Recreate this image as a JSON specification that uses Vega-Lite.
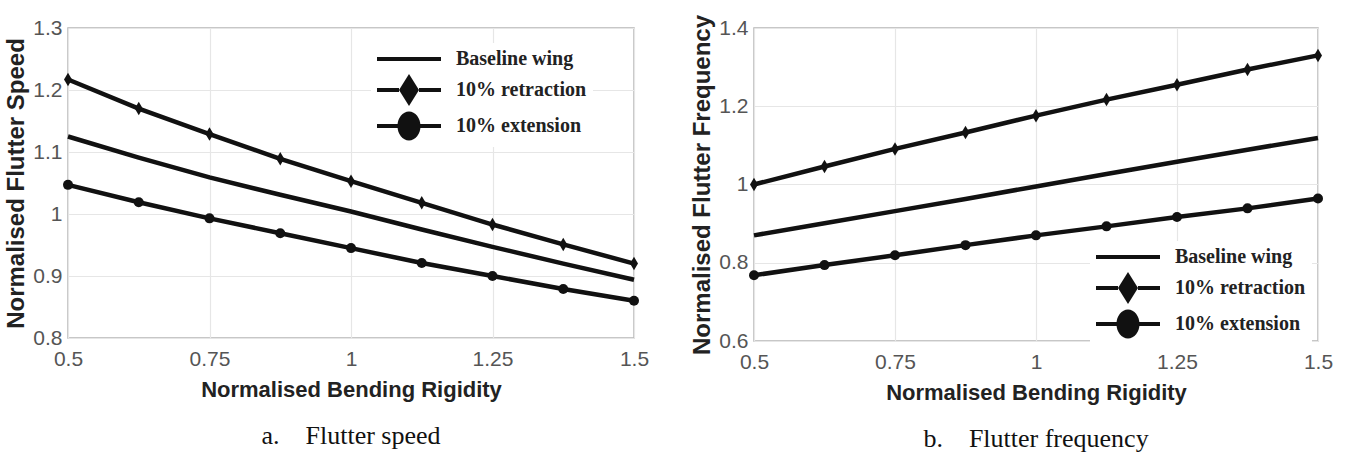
{
  "$schema": "https://vega.github.io/schema/vega-lite/v6.json",
  "padding": {"left": 4, "top": 13, "right": 4, "bottom": 0},
  "background": "white",
  "config": {
    "view": {"stroke": "#b5b5b5", "strokeWidth": 1.5},
    "axis": {
      "labelFont": "Liberation Sans", "labelFontSize": 21, "labelColor": "#555", "labelFlush": false,
      "titleFont": "Liberation Sans", "titleFontWeight": "bold", "titleColor": "#222",
      "ticks": false, "domain": false, "gridColor": "#e6e6e6", "gridWidth": 1.2, "labelPadding": 6
    },
    "title": {"font": "Liberation Serif", "fontSize": 26, "fontWeight": "normal", "color": "#111", "orient": "bottom", "offset": 23}
  },
  "data": {"values": [
    {"panel": "speed", "series": "Baseline wing", "x": 0.5, "y": 1.125},
    {"panel": "speed", "series": "Baseline wing", "x": 0.625, "y": 1.091},
    {"panel": "speed", "series": "Baseline wing", "x": 0.75, "y": 1.059},
    {"panel": "speed", "series": "Baseline wing", "x": 0.875, "y": 1.031},
    {"panel": "speed", "series": "Baseline wing", "x": 1.0, "y": 1.004},
    {"panel": "speed", "series": "Baseline wing", "x": 1.125, "y": 0.975},
    {"panel": "speed", "series": "Baseline wing", "x": 1.25, "y": 0.947},
    {"panel": "speed", "series": "Baseline wing", "x": 1.375, "y": 0.920},
    {"panel": "speed", "series": "Baseline wing", "x": 1.5, "y": 0.894},
    {"panel": "speed", "series": "10% retraction", "x": 0.5, "y": 1.217},
    {"panel": "speed", "series": "10% retraction", "x": 0.625, "y": 1.170},
    {"panel": "speed", "series": "10% retraction", "x": 0.75, "y": 1.129},
    {"panel": "speed", "series": "10% retraction", "x": 0.875, "y": 1.089},
    {"panel": "speed", "series": "10% retraction", "x": 1.0, "y": 1.053},
    {"panel": "speed", "series": "10% retraction", "x": 1.125, "y": 1.018},
    {"panel": "speed", "series": "10% retraction", "x": 1.25, "y": 0.983},
    {"panel": "speed", "series": "10% retraction", "x": 1.375, "y": 0.951},
    {"panel": "speed", "series": "10% retraction", "x": 1.5, "y": 0.920},
    {"panel": "speed", "series": "10% extension", "x": 0.5, "y": 1.047},
    {"panel": "speed", "series": "10% extension", "x": 0.625, "y": 1.019},
    {"panel": "speed", "series": "10% extension", "x": 0.75, "y": 0.993},
    {"panel": "speed", "series": "10% extension", "x": 0.875, "y": 0.969},
    {"panel": "speed", "series": "10% extension", "x": 1.0, "y": 0.945},
    {"panel": "speed", "series": "10% extension", "x": 1.125, "y": 0.921},
    {"panel": "speed", "series": "10% extension", "x": 1.25, "y": 0.900},
    {"panel": "speed", "series": "10% extension", "x": 1.375, "y": 0.879},
    {"panel": "speed", "series": "10% extension", "x": 1.5, "y": 0.860},
    {"panel": "freq", "series": "Baseline wing", "x": 0.5, "y": 0.870},
    {"panel": "freq", "series": "Baseline wing", "x": 0.625, "y": 0.901},
    {"panel": "freq", "series": "Baseline wing", "x": 0.75, "y": 0.932},
    {"panel": "freq", "series": "Baseline wing", "x": 0.875, "y": 0.963},
    {"panel": "freq", "series": "Baseline wing", "x": 1.0, "y": 0.995},
    {"panel": "freq", "series": "Baseline wing", "x": 1.125, "y": 1.027},
    {"panel": "freq", "series": "Baseline wing", "x": 1.25, "y": 1.058},
    {"panel": "freq", "series": "Baseline wing", "x": 1.375, "y": 1.089},
    {"panel": "freq", "series": "Baseline wing", "x": 1.5, "y": 1.119},
    {"panel": "freq", "series": "10% retraction", "x": 0.5, "y": 1.000},
    {"panel": "freq", "series": "10% retraction", "x": 0.625, "y": 1.046},
    {"panel": "freq", "series": "10% retraction", "x": 0.75, "y": 1.091},
    {"panel": "freq", "series": "10% retraction", "x": 0.875, "y": 1.133},
    {"panel": "freq", "series": "10% retraction", "x": 1.0, "y": 1.176},
    {"panel": "freq", "series": "10% retraction", "x": 1.125, "y": 1.217},
    {"panel": "freq", "series": "10% retraction", "x": 1.25, "y": 1.255},
    {"panel": "freq", "series": "10% retraction", "x": 1.375, "y": 1.294},
    {"panel": "freq", "series": "10% retraction", "x": 1.5, "y": 1.330},
    {"panel": "freq", "series": "10% extension", "x": 0.5, "y": 0.768},
    {"panel": "freq", "series": "10% extension", "x": 0.625, "y": 0.794},
    {"panel": "freq", "series": "10% extension", "x": 0.75, "y": 0.819},
    {"panel": "freq", "series": "10% extension", "x": 0.875, "y": 0.845},
    {"panel": "freq", "series": "10% extension", "x": 1.0, "y": 0.870},
    {"panel": "freq", "series": "10% extension", "x": 1.125, "y": 0.893},
    {"panel": "freq", "series": "10% extension", "x": 1.25, "y": 0.917},
    {"panel": "freq", "series": "10% extension", "x": 1.375, "y": 0.939},
    {"panel": "freq", "series": "10% extension", "x": 1.5, "y": 0.964}
  ]},
  "spacing": 40,
  "resolve": {"scale": {"shape": "independent", "x": "independent", "y": "independent"}, "legend": {"shape": "independent"}},
  "hconcat": [
    {
      "width": 566, "height": 310,
      "title": {"text": "a.\u00a0\u00a0\u00a0\u00a0Flutter speed"},
      "transform": [{"filter": "datum.panel === 'speed'"}],
      "encoding": {
        "x": {"field": "x", "type": "quantitative", "scale": {"domain": [0.5, 1.5], "nice": false, "zero": false},
              "axis": {"values": [0.5, 0.75, 1, 1.25, 1.5], "format": ".3~g", "labelPadding": 10, "title": "Normalised Bending Rigidity", "titleFontSize": 22, "titlePadding": 10}},
        "y": {"field": "y", "type": "quantitative", "scale": {"domain": [0.8, 1.3], "nice": false, "zero": false},
              "axis": {"values": [0.8, 0.9, 1, 1.1, 1.2, 1.3], "format": ".3~g", "title": "Normalised Flutter Speed", "titleFontSize": 24, "titlePadding": 4}}
      },
      "layer": [
        {"mark": {"type": "line", "color": "#111", "strokeWidth": 4.5}, "encoding": {"detail": {"field": "series"}}},
        {"transform": [{"filter": "datum.series === '10% retraction'"}],
         "mark": {"type": "point", "filled": true, "color": "#111", "opacity": 1, "size": 100, "shape": "M0,-1.35L0.8,0L0,1.35L-0.8,0Z"}, "encoding": {}},
        {"transform": [{"filter": "datum.series === '10% extension'"}],
         "mark": {"type": "point", "filled": true, "color": "#111", "opacity": 1, "size": 100, "shape": "circle"}, "encoding": {}},
        {"mark": {"type": "point", "filled": true, "color": "#111", "opacity": 0, "size": 10},
         "encoding": {
           "shape": {"field": "series", "type": "nominal",
             "scale": {"domain": ["Baseline wing", "10% retraction", "10% extension"],
                       "range": ["M-3.2,-0.2H3.2V0.2H-3.2Z", "M-3.2,-0.2H-1V0.2H-3.2Z M1,-0.2H3.2V0.2H1Z M0,-1.6L1,0L0,1.6L-1,0Z", "M-3.2,-0.2H-1V0.2H-3.2Z M1,-0.2H3.2V0.2H1Z M-1.15,0A1.15,1.45 0 1,1 1.15,0A1.15,1.45 0 1,1 -1.15,0Z"]},
             "legend": {"orient": "none", "legendX": 303, "legendY": 15, "title": null,
               "labelFont": "Liberation Serif", "labelFontWeight": "bold", "labelFontSize": 20, "labelColor": "#222",
               "symbolSize": 400, "symbolOpacity": 1, "symbolFillColor": "#111", "symbolStrokeWidth": 0,
               "fillColor": "white", "padding": 6, "rowPadding": 5, "symbolOffset": 22, "labelOffset": 37}}}}
      ]
    },
    {
      "width": 564, "height": 313,
      "title": {"text": "b.\u00a0\u00a0\u00a0\u00a0Flutter frequency"},
      "transform": [{"filter": "datum.panel === 'freq'"}],
      "encoding": {
        "x": {"field": "x", "type": "quantitative", "scale": {"domain": [0.5, 1.5], "nice": false, "zero": false},
              "axis": {"values": [0.5, 0.75, 1, 1.25, 1.5], "format": ".3~g", "labelPadding": 10, "title": "Normalised Bending Rigidity", "titleFontSize": 22, "titlePadding": 10}},
        "y": {"field": "y", "type": "quantitative", "scale": {"domain": [0.6, 1.4], "nice": false, "zero": false},
              "axis": {"values": [0.6, 0.8, 1, 1.2, 1.4], "format": ".3~g", "title": "Normalised Flutter Frequency", "titleFontSize": 24, "titlePadding": 4}}
      },
      "layer": [
        {"mark": {"type": "line", "color": "#111", "strokeWidth": 4.5}, "encoding": {"detail": {"field": "series"}}},
        {"transform": [{"filter": "datum.series === '10% retraction'"}],
         "mark": {"type": "point", "filled": true, "color": "#111", "opacity": 1, "size": 100, "shape": "M0,-1.35L0.8,0L0,1.35L-0.8,0Z"}, "encoding": {}},
        {"transform": [{"filter": "datum.series === '10% extension'"}],
         "mark": {"type": "point", "filled": true, "color": "#111", "opacity": 1, "size": 100, "shape": "circle"}, "encoding": {}},
        {"mark": {"type": "point", "filled": true, "color": "#111", "opacity": 0, "size": 10},
         "encoding": {
           "shape": {"field": "series", "type": "nominal",
             "scale": {"domain": ["Baseline wing", "10% retraction", "10% extension"],
                       "range": ["M-3.2,-0.2H3.2V0.2H-3.2Z", "M-3.2,-0.2H-1V0.2H-3.2Z M1,-0.2H3.2V0.2H1Z M0,-1.6L1,0L0,1.6L-1,0Z", "M-3.2,-0.2H-1V0.2H-3.2Z M1,-0.2H3.2V0.2H1Z M-1.15,0A1.15,1.45 0 1,1 1.15,0A1.15,1.45 0 1,1 -1.15,0Z"]},
             "legend": {"orient": "none", "legendX": 336, "legendY": 213, "title": null,
               "labelFont": "Liberation Serif", "labelFontWeight": "bold", "labelFontSize": 20, "labelColor": "#222",
               "symbolSize": 400, "symbolOpacity": 1, "symbolFillColor": "#111", "symbolStrokeWidth": 0,
               "fillColor": "white", "padding": 6, "rowPadding": 5, "symbolOffset": 22, "labelOffset": 37}}}}
      ]
    }
  ]
}
